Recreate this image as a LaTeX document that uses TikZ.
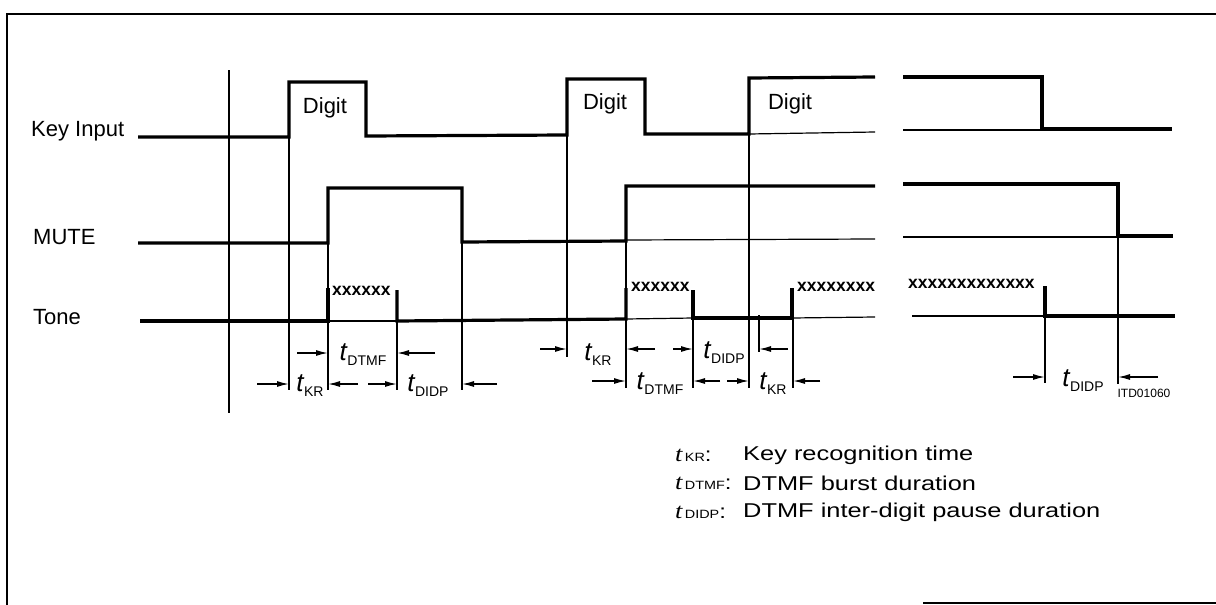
\documentclass[tikz,border=0pt]{standalone}
\usepackage{fontspec}
\usepackage{graphicx}
\setmainfont{Liberation Sans}
\newfontfamily\legserif{Liberation Serif}
\usetikzlibrary{arrows.meta}
\tikzset{
  sig/.style={line width=3.2pt, line join=miter},
  thin/.style={line width=1.2pt},
  ref/.style={line width=1.1pt},
  frame/.style={line width=1.4pt},
  dim/.style={line width=1.4pt, -{Latex[length=12pt,width=6pt]}},
  lab/.style={font=\fontsize{22}{22}\selectfont, inner sep=0pt, anchor=west},
  xs/.style={font=\fontsize{17.5}{17.5}\selectfont\bfseries, inner sep=0pt, anchor=west},
  tl/.style={inner sep=0pt},
  leg/.style={inner sep=0pt, anchor=west},
}
\newcommand\tsub[1]{{\fontsize{26}{26}\selectfont\itshape t}\kern0.5pt\raisebox{-5pt}{\fontsize{14}{14}\selectfont #1}}
\newcommand\legt[1]{\scalebox{1.2}[1]{{\fontsize{22}{22}\selectfont\legserif\itshape t}\kern2pt{\fontsize{12}{12}\selectfont #1}{\fontsize{20}{20}\selectfont :}}}
\newcommand\legd[1]{\scalebox{1.27}[1]{\fontsize{20}{20}\selectfont #1}}
\begin{document}
\begin{tikzpicture}[x=1pt,y=-1pt]
\useasboundingbox (0,0) rectangle (1216,605);
% frame
\draw[frame] (7,605) -- (7,14) -- (1216,14);
\draw[frame] (923,603) -- (1216,603);
% main reference line
\draw[ref] (229,70) -- (229,413);
% labels
\node[lab] (ki) at (31,131) {Key Input};
\node[lab] (mu) at (33,237) {MUTE};
\node[lab] (to) at (33,317) {Tone};
% Key Input
\draw[sig] (138,137) -- (289,137) -- (289,82) -- (366,82) -- (366,136) -- (567,135) -- (567,79) -- (645,79) -- (645,134) -- (749,134) -- (749,78) -- (875,77);
\draw[thin] (749,134) -- (875,132);
\draw[sig] (903,77) -- (1042,77) -- (1042,129) -- (1172,129);
\draw[thin] (903,130) -- (1042,130);
\node[lab, anchor=center] (d1) at (325,108) {Digit};
\node[lab, anchor=center] (d2) at (605,104) {Digit};
\node[lab, anchor=center] (d3) at (790,104) {Digit};
% MUTE
\draw[sig] (138,243) -- (328,243) -- (328,188) -- (462,188) -- (462,242) -- (626,241) -- (626,186) -- (875,186);
\draw[thin] (626,240) -- (875,239);
\draw[sig] (903,184) -- (1118,184) -- (1118,236) -- (1173,236);
\draw[thin] (903,237) -- (1118,237);
% Tone
\draw[sig] (140,321) -- (328,321) -- (328,288);
\draw[thin] (328,321) -- (397,321);
\draw[sig] (397,290) -- (397,321) -- (626,319) -- (626,288);
\draw[thin] (626,319) -- (693,318);
\draw[sig] (693,290) -- (693,318) -- (792,318) -- (792,288);
\draw[thin] (792,318) -- (875,317);
\draw[thin] (912,316) -- (1045,316);
\draw[sig] (1045,286) -- (1045,316) -- (1175,316);
\node[xs] (x1) at (332,291) {xxxxxx};
\node[xs] (x2) at (631,287) {xxxxxx};
\node[xs] (x3) at (797,287) {xxxxxxxx};
\node[xs] (x4) at (908,284) {xxxxxxxxxxxxx};
% timing reference lines
\draw[ref] (289,137) -- (289,390);
\draw[ref] (328,243) -- (328,390);
\draw[ref] (397,321) -- (397,390);
\draw[ref] (462,242) -- (462,390);
\draw[ref] (567,135) -- (567,357);
\draw[ref] (626,241) -- (626,388);
\draw[ref] (693,318) -- (693,388);
\draw[ref] (749,134) -- (749,388);
\draw[ref] (759,315) -- (759,352);
\draw[ref] (793,318) -- (793,388);
\draw[ref] (1045,316) -- (1045,383);
\draw[ref] (1118,236) -- (1118,384);
% group 1
\draw[dim] (297,353) -- (328,353);
\draw[dim] (435,353) -- (397,353);
\node[tl] (l1) at (363,355) {\tsub{DTMF}};
\draw[dim] (257,384) -- (289,384);
\draw[dim] (358,384) -- (328,384);
\node[tl] (l2) at (310,386) {\tsub{KR}};
\draw[dim] (368,384) -- (397,384);
\draw[dim] (497,384) -- (462,384);
\node[tl] (l3) at (428,386) {\tsub{DIDP}};
% group 2
\draw[dim] (540,349) -- (567,349);
\draw[dim] (655,349) -- (626,349);
\node[tl] (l4) at (598,355) {\tsub{KR}};
\draw[dim] (673,349) -- (693,349);
\draw[dim] (788,349) -- (759,349);
\node[tl] (l5) at (724,353) {\tsub{DIDP}};
\draw[dim] (592,381) -- (626,381);
\draw[dim] (720,381) -- (693,381);
\node[tl] (l6) at (660,384) {\tsub{DTMF}};
\draw[dim] (727,381) -- (749,381);
\draw[dim] (820,381) -- (793,381);
\node[tl] (l7) at (773,384) {\tsub{KR}};
% group 3
\draw[dim] (1013,377) -- (1045,377);
\draw[dim] (1158,377) -- (1118,377);
\node[tl] (l8) at (1083,381) {\tsub{DIDP}};
\node[tl, font=\fontsize{12}{12}\selectfont] (itd) at (1144,393) {ITD01060};
% legend
\node[leg] (g1) at (675,455) {\legt{KR}};
\node[leg] (g2) at (675,483) {\legt{DTMF}};
\node[leg] (g3) at (675,512) {\legt{DIDP}};
\node[leg] (h1) at (743,455) {\legd{Key recognition time}};
\node[leg] (h2) at (743,483) {\legd{DTMF burst duration}};
\node[leg] (h3) at (743,512) {\legd{DTMF inter-digit pause duration}};
\end{tikzpicture}
\end{document}
